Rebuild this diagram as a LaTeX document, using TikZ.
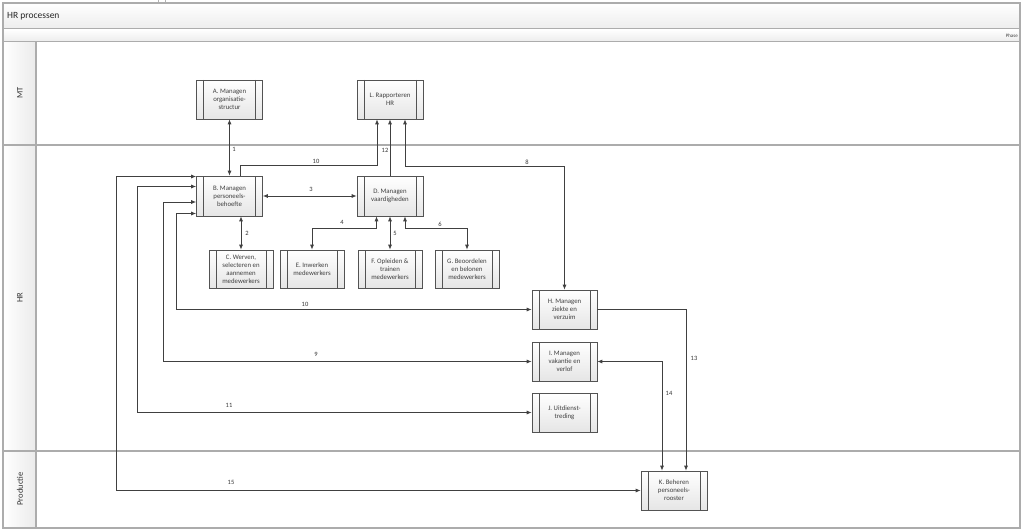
\documentclass[tikz,border=0pt]{standalone}
\usepackage{fontspec}
\setmainfont{Carlito}
\usetikzlibrary{arrows.meta,calc}
\begin{document}
\begin{tikzpicture}[x=1pt,y=-1pt,
  frame/.style={draw=gray!65, line width=1.1pt},
  proc/.style={draw=gray!65!black, line width=0.7pt, top color=white, bottom color=gray!20,
    minimum width=66pt, minimum height=39pt, inner sep=0pt, align=center,
    font=\fontsize{6.8}{8}\selectfont, text=black!75,
    path picture={
      \draw[gray!65!black, line width=0.6pt] ([xshift=7pt]path picture bounding box.north west) -- ([xshift=7pt]path picture bounding box.south west);
      \draw[gray!65!black, line width=0.6pt] ([xshift=-7pt]path picture bounding box.north east) -- ([xshift=-7pt]path picture bounding box.south east);
    }},
  conn/.style={draw=black!75, line width=0.75pt},
  tip/.tip={Latex[length=5pt,width=4pt]},
  lbl/.style={font=\fontsize{6.5}{7}\selectfont, text=black!80, inner sep=0pt},
  lane/.style={rotate=90, font=\fontsize{8.5}{9}\selectfont, text=black!80},
]
\useasboundingbox (0,0) rectangle (1024,532);
\fill[white] (0,0) rectangle (1024,532);
% small handle mark
\draw[gray!60, line width=0.5pt, fill=white] (158,-1) rectangle (165,3);
% title bar
\shade[top color=white, bottom color=gray!14] (3,3) rectangle (1020,28);
\shade[top color=white, bottom color=gray!14] (3,29) rectangle (1020,41);
\shade[left color=white, right color=gray!16] (3,42) rectangle (36,528);
\node[anchor=west, font=\fontsize{9.5}{10}\selectfont, text=black!85, inner sep=0pt] (title) at (7,16) {HR processen};
\node[anchor=east, font=\fontsize{5}{5}\selectfont, text=black!75, inner sep=0pt] (phase) at (1018,35.5) {Phase};
% frames
\draw[frame] (3,3) rectangle (1020,528);
\draw[frame] (3,28.5) -- (1020,28.5);
\draw[frame] (3,41.5) -- (1020,41.5);
\draw[frame] (3,145) -- (1020,145);
\draw[frame] (3,451) -- (1020,451);
\draw[frame] (36,41.5) -- (36,528);
% lane labels
\node[lane] (mt) at (20,93) {MT};
\node[lane] (hr) at (20,298) {HR};
\node[lane] (prod) at (20,489) {Productie};
% process nodes
\node[proc] (A) at (229.5,99.5) {A. Managen\\organisatie-\\structur};
\node[proc] (L) at (390,99.5) {L. Rapporteren\\HR};
\node[proc, minimum height=40pt] (B) at (229.5,196) {B. Managen\\personeels-\\behoefte};
\node[proc, minimum height=40pt] (D) at (390,196) {D. Managen\\vaardigheden};
\node[proc, minimum width=64pt, minimum height=38pt] (C) at (241,269) {C. Werven,\\selecteren en\\aannemen\\medewerkers};
\node[proc, minimum width=64pt, minimum height=38pt] (E) at (312,269) {E. Inwerken\\medewerkers};
\node[proc, minimum width=64pt, minimum height=38pt] (F) at (390,269) {F. Opleiden \&\\trainen\\medewerkers};
\node[proc, minimum width=64pt, minimum height=38pt] (G) at (467,269) {G. Beoordelen\\en belonen\\medewerkers};
\node[proc, minimum width=65pt] (H) at (564.5,309.5) {H. Managen\\ziekte en\\verzuim};
\node[proc, minimum width=65pt] (I) at (564.5,361.5) {I. Managen\\vakantie en\\verlof};
\node[proc, minimum width=65pt] (J) at (564.5,412.5) {J. Uitdienst-\\treding};
\node[proc] (K) at (674,490.5) {K. Beheren\\personeels-\\rooster};
% helper coordinates
\coordinate (Dl) at ($(D.south)+(-13.5,0)$);
\coordinate (Dr) at ($(D.south)+(15,0)$);
\coordinate (Bt) at ($(B.north)+(11,0)$);
\coordinate (Ll) at ($(L.south)+(-13,0)$);
\coordinate (Lr) at ($(L.south)+(15,0)$);
\coordinate (Kl) at ($(K.north)+(-12,0)$);
\coordinate (Kr) at ($(K.north)+(12,0)$);
\coordinate (b1) at ($(B.west)+(0,-19.5)$);
\coordinate (b2) at ($(B.west)+(0,-9.5)$);
\coordinate (b3) at ($(B.west)+(0,6)$);
\coordinate (b4) at ($(B.west)+(0,17.5)$);
% connectors
\draw[conn, tip-tip] (A.south) -- (B.north);
\draw[conn, tip-tip] (C.north) -- (C.north |- B.south);
\draw[conn, tip-tip] (B.east) -- (D.west);
\draw[conn, tip-tip] (Dl) -- ++(0,12) -| (E.north);
\draw[conn, tip-tip] (D.south) -- (F.north);
\draw[conn, tip-tip] (Dr) -- ++(0,12) -| (G.north);
\draw[conn, -tip] (Bt) -- ++(0,-10) -| (Ll);
\draw[conn, -tip] (D.north) -- (L.south);
\draw[conn, tip-tip] (H.north) -- ++(0,-123.5) -| (Lr);
\draw[conn, tip-tip] (K.west) -| ($(b1)+(-80,0)$) -- (b1);
\draw[conn, tip-tip] (J.west) -| ($(b2)+(-59,0)$) -- (b2);
\draw[conn, tip-tip] (I.west) -| ($(b3)+(-33,0)$) -- (b3);
\draw[conn, tip-tip] (H.west) -| ($(b4)+(-20,0)$) -- (b4);
\draw[conn, -tip] (H.east) -| (Kr);
\draw[conn, tip-tip] (I.east) -| (Kl);
% labels
\node[lbl] (l1) at (234,149) {1};
\node[lbl] (l2) at (247,233) {2};
\node[lbl] (l3) at (311,189.5) {3};
\node[lbl] (l4) at (342,222.5) {4};
\node[lbl] (l5) at (395,233) {5};
\node[lbl] (l6) at (440,224.5) {6};
\node[lbl] (l10a) at (316,161.5) {10};
\node[lbl] (l12) at (385,150.5) {12};
\node[lbl] (l8) at (527,162.5) {8};
\node[lbl] (l10b) at (305,304) {10};
\node[lbl] (l9) at (316,354) {9};
\node[lbl] (l11) at (229,405) {11};
\node[lbl] (l15) at (231,482) {15};
\node[lbl] (l13) at (694,358.5) {13};
\node[lbl] (l14) at (669,393) {14};
\end{tikzpicture}
\end{document}
